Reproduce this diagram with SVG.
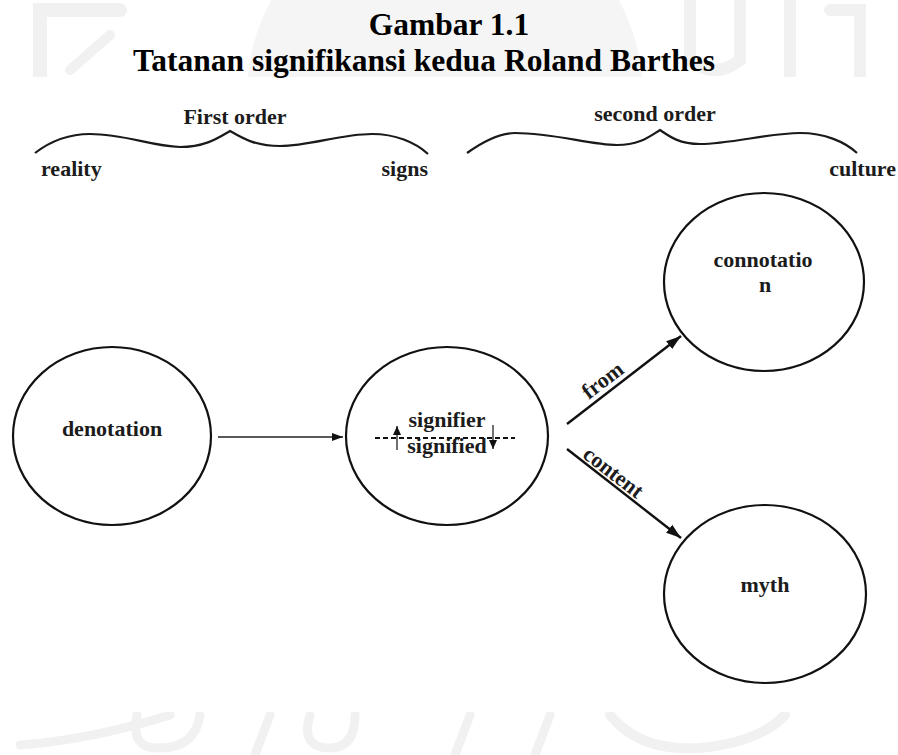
<svg xmlns="http://www.w3.org/2000/svg" width="898" height="755" viewBox="0 0 898 755">
  <defs>
    <style>
      .t { font-family: "Liberation Serif", "DejaVu Serif", serif; font-weight: bold; fill: #1c1c1c; }
      .title { font-size: 31.5px; fill: #000; }
      .lbl { font-size: 22px; }
      .node { fill: none; stroke: #111; stroke-width: 2.2; }
      .brace { fill: none; stroke: #1a1a1a; stroke-width: 2.2; }
      .wm { fill: none; stroke: #f1f1f1; stroke-linecap: round; }
      .thin { stroke: #222; stroke-width: 1.3; fill: none; }
      .thick { stroke: #111; stroke-width: 2.4; fill: none; }
    </style>
    <marker id="ahThin" markerUnits="userSpaceOnUse" markerWidth="12" markerHeight="10" refX="11" refY="5" orient="auto">
      <path d="M0,1 L11,5 L0,9 Z" fill="#111"/>
    </marker>
    <marker id="ahThick" markerUnits="userSpaceOnUse" markerWidth="16" markerHeight="12" refX="15" refY="6" orient="auto">
      <path d="M0,1 L15,6 L0,11 Z" fill="#111"/>
    </marker>
    <marker id="ahSmall" markerUnits="userSpaceOnUse" markerWidth="10" markerHeight="10" refX="9" refY="5" orient="auto">
      <path d="M0,1 L9,5 L0,9 Z" fill="#111"/>
    </marker>
  </defs>

  <rect width="898" height="755" fill="#ffffff"/>

  <!-- faint watermark -->
  <g id="watermark">
    <circle cx="445" cy="95" r="198" fill="#f5f5f5"/>
    <path class="wm" stroke-width="14" d="M40,80 L40,10 L120,10"/>
    <path class="wm" stroke-width="10" d="M70,70 L110,35"/>
    <path class="wm" stroke-width="12" d="M690,0 L690,60 Q715,80 740,60 L740,0"/>
    <path class="wm" stroke-width="12" d="M790,0 L790,75"/>
    <path class="wm" stroke-width="12" d="M830,10 L860,10 L860,75"/>
    <path class="wm" stroke-width="9" d="M20,745 Q90,740 170,715"/>
    <path class="wm" stroke-width="9" d="M137,715 Q130,750 160,748 Q195,748 200,715"/>
    <path class="wm" stroke-width="9" d="M270,715 L255,755"/>
    <path class="wm" stroke-width="9" d="M310,715 Q300,748 330,748 Q355,748 355,715"/>
    <path class="wm" stroke-width="9" d="M470,715 L455,755"/>
    <path class="wm" stroke-width="9" d="M550,715 L535,755"/>
    <path class="wm" stroke-width="10" d="M610,715 Q640,752 700,748 Q760,742 785,715"/>
    <rect x="0" y="77" width="898" height="635" fill="#ffffff"/>
  </g>

  <!-- title -->
  <g id="title">
    <text class="t title" x="449" y="35" text-anchor="middle">Gambar 1.1</text>
    <text class="t title" x="424" y="71" text-anchor="middle">Tatanan signifikansi kedua Roland Barthes</text>
  </g>

  <!-- braces and order labels -->
  <g id="first-order">
    <path class="brace" d="M35,153 C52,140 70,134 90,134 C125,134 150,146 180,147 C205,147 218,138 230,131 C242,138 255,146 280,146 C310,146 340,134 372,134 C395,134 415,142 428,154"/>
    <text class="t lbl" x="235" y="124" text-anchor="middle">First order</text>
    <text class="t lbl" x="41" y="176">reality</text>
    <text class="t lbl" x="428" y="176" text-anchor="end">signs</text>
  </g>
  <g id="second-order">
    <path class="brace" d="M467,153 C485,140 500,133 515,133 C555,133 590,145 617,145 C640,145 650,136 660,130 C670,137 680,144 700,144 C730,144 770,133 800,133 C825,133 845,142 857,153"/>
    <text class="t lbl" x="655" y="121" text-anchor="middle">second order</text>
    <text class="t lbl" x="896" y="176" text-anchor="end">culture</text>
  </g>

  <!-- nodes -->
  <g id="node-denotation">
    <ellipse class="node" cx="112" cy="436" rx="99" ry="89"/>
    <text class="t lbl" x="112" y="436" text-anchor="middle">denotation</text>
  </g>
  <g id="node-sign">
    <ellipse class="node" cx="447" cy="436" rx="101" ry="89"/>
    <text class="t lbl" x="447" y="427" text-anchor="middle">signifier</text>
    <text class="t lbl" x="447" y="453" text-anchor="middle">signified</text>
    <line x1="375" y1="438" x2="515" y2="438" stroke="#111" stroke-width="2" stroke-dasharray="5,3"/>
    <line x1="397" y1="450" x2="397" y2="426" class="thin" marker-end="url(#ahSmall)"/>
    <line x1="493" y1="425" x2="493" y2="449" class="thin" marker-end="url(#ahSmall)"/>
  </g>
  <g id="node-connotation">
    <ellipse class="node" cx="764" cy="282" rx="100" ry="89"/>
    <text class="t lbl" x="763" y="267" text-anchor="middle">connotatio</text>
    <text class="t lbl" x="765" y="292" text-anchor="middle">n</text>
  </g>
  <g id="node-myth">
    <ellipse class="node" cx="765" cy="594" rx="101" ry="89"/>
    <text class="t lbl" x="765" y="592" text-anchor="middle">myth</text>
  </g>

  <!-- connectors -->
  <g id="connectors">
    <line class="thin" x1="218" y1="437" x2="343" y2="437" marker-end="url(#ahThin)"/>
    <line class="thick" x1="567" y1="424" x2="681" y2="336" marker-end="url(#ahThick)"/>
    <line class="thick" x1="567" y1="449" x2="681" y2="538" marker-end="url(#ahThick)"/>
    <text class="t lbl" x="0" y="0" text-anchor="middle" transform="translate(607,386) rotate(-37.5)">from</text>
    <text class="t lbl" x="0" y="0" text-anchor="middle" transform="translate(609,478) rotate(37.8)">content</text>
  </g>
</svg>
